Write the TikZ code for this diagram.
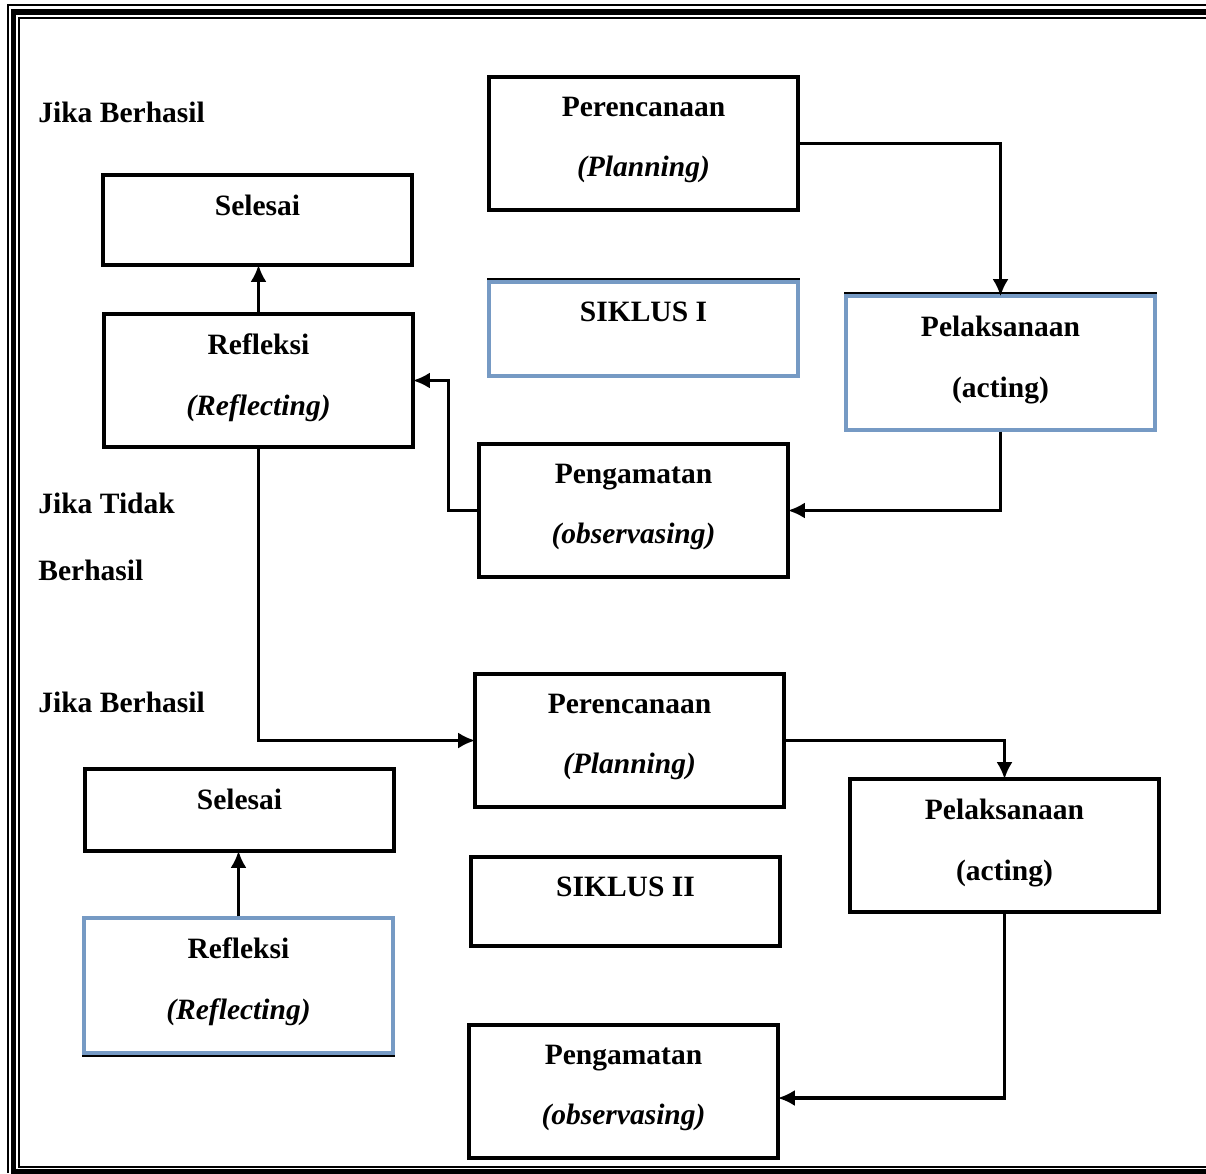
\documentclass[tikz,border=0pt]{standalone}
\usepackage{fontspec}
\setmainfont{Liberation Serif}
\usepackage{xcolor}
\usepackage{tikz}
\usetikzlibrary{arrows.meta}

\definecolor{boxblue}{RGB}{118,154,196}
\newcommand{\txtfont}{\fontsize{16.8}{34.6}\selectfont\bfseries}

\begin{document}
\begin{tikzpicture}[x=0.02cm, y=-0.02cm]
	\tikzstyle{box} = [draw, line width=1.8pt, minimum width=6.18cm, minimum height=2.66cm]
	\tikzstyle{bluebox} = [box, draw=boxblue]
	\tikzstyle{boxtext} = [anchor=north, inner sep=0pt, yshift=-0.42cm, align=center, font=\txtfont]
	\tikzstyle{note} = [anchor=base west, inner sep=0pt, font=\txtfont]
	\tikzstyle{frame} = [line width=0.6pt]
	\tikzset{edge/.style = {-{Latex[length=0.34cm, width=0.32cm]}, line width=1.8pt, shorten >=-1pt}}

	\useasboundingbox (0,0) rectangle (1206,1173);

	% page border
	\draw[frame] (8,1173) -- (8,5) -- (1206,5);
	\draw[line width=3.4pt] (1206,1172) -- (13.5,1172) -- (13.5,12) -- (1206,12);
	\draw[frame] (1206,1167) -- (19,1167) -- (19,18) -- (1206,18);

	% siklus I
	\node[box, label={[boxtext]north:{Perencanaan\\\textit{(Planning)}}}](plan1) at (643.5,143.5) {};
	\node[box, minimum height=1.8cm, label={[boxtext]north:Selesai}](sel1) at (257.5,220) {};
	\node[bluebox, minimum height=1.88cm, label={[boxtext]north:SIKLUS I}](sik1) at (643.5,329) {};
	\node[bluebox, minimum height=2.68cm, label={[boxtext]north:{Pelaksanaan\\(acting)}}](act1) at (1000.5,363) {};
	\node[box, label={[boxtext]north:{Refleksi\\\textit{(Reflecting)}}}](ref1) at (258.5,380.5) {};
	\node[box, label={[boxtext]north:{Pengamatan\\\textit{(observasing)}}}](obs1) at (633.5,510.5) {};
	\draw[line width=1.3pt] ([yshift=0.03cm]sik1.north west) -- ([yshift=0.03cm]sik1.north east);
	\draw[line width=1.3pt] ([yshift=0.03cm]act1.north west) -- ([yshift=0.03cm]act1.north east);

	% siklus II
	\node[box, label={[boxtext]north:{Perencanaan\\\textit{(Planning)}}}](plan2) at (629.5,740.5) {};
	\node[box, minimum height=1.64cm, label={[boxtext]north:Selesai}](sel2) at (239.5,810) {};
	\node[box, label={[boxtext]north:{Pelaksanaan\\(acting)}}](act2) at (1004.5,845.5) {};
	\node[box, minimum height=1.78cm, label={[boxtext]north:SIKLUS II}](sik2) at (625.5,901.5) {};
	\node[bluebox, minimum height=2.7cm, label={[boxtext]north:{Refleksi\\\textit{(Reflecting)}}}](ref2) at (238.5,985.5) {};
	\node[box, label={[boxtext]north:{Pengamatan\\\textit{(observasing)}}}](obs2) at (623.5,1091.5) {};
	\draw[line width=1.3pt] ([yshift=-0.03cm]ref2.south west) -- ([yshift=-0.03cm]ref2.south east);

	\node[note](berhasil1) at (38,122) {Jika Berhasil};
	\node[note](tidak) at (38,513) {Jika Tidak};
	\node[note](tidak2) at (38,580) {Berhasil};
	\node[note](berhasil2) at (38,712) {Jika Berhasil};

	\draw[edge](plan1.east) -| (act1.north);
	\draw[edge](act1.south) |- (obs1.east);
	\draw[edge](obs1.west) -- ++(-29,0) |- (ref1.east);
	\draw[edge](ref1.north) -- (ref1.north |- sel1.south);
	\draw[edge](ref1.south) |- (plan2.west);
	\draw[edge](plan2.east) -| (act2.north);
	\draw[edge](act2.south) |- ([yshift=-0.13cm]obs2.east);
	\draw[edge](ref2.north) -- (ref2.north |- sel2.south);

\end{tikzpicture}
\end{document}
